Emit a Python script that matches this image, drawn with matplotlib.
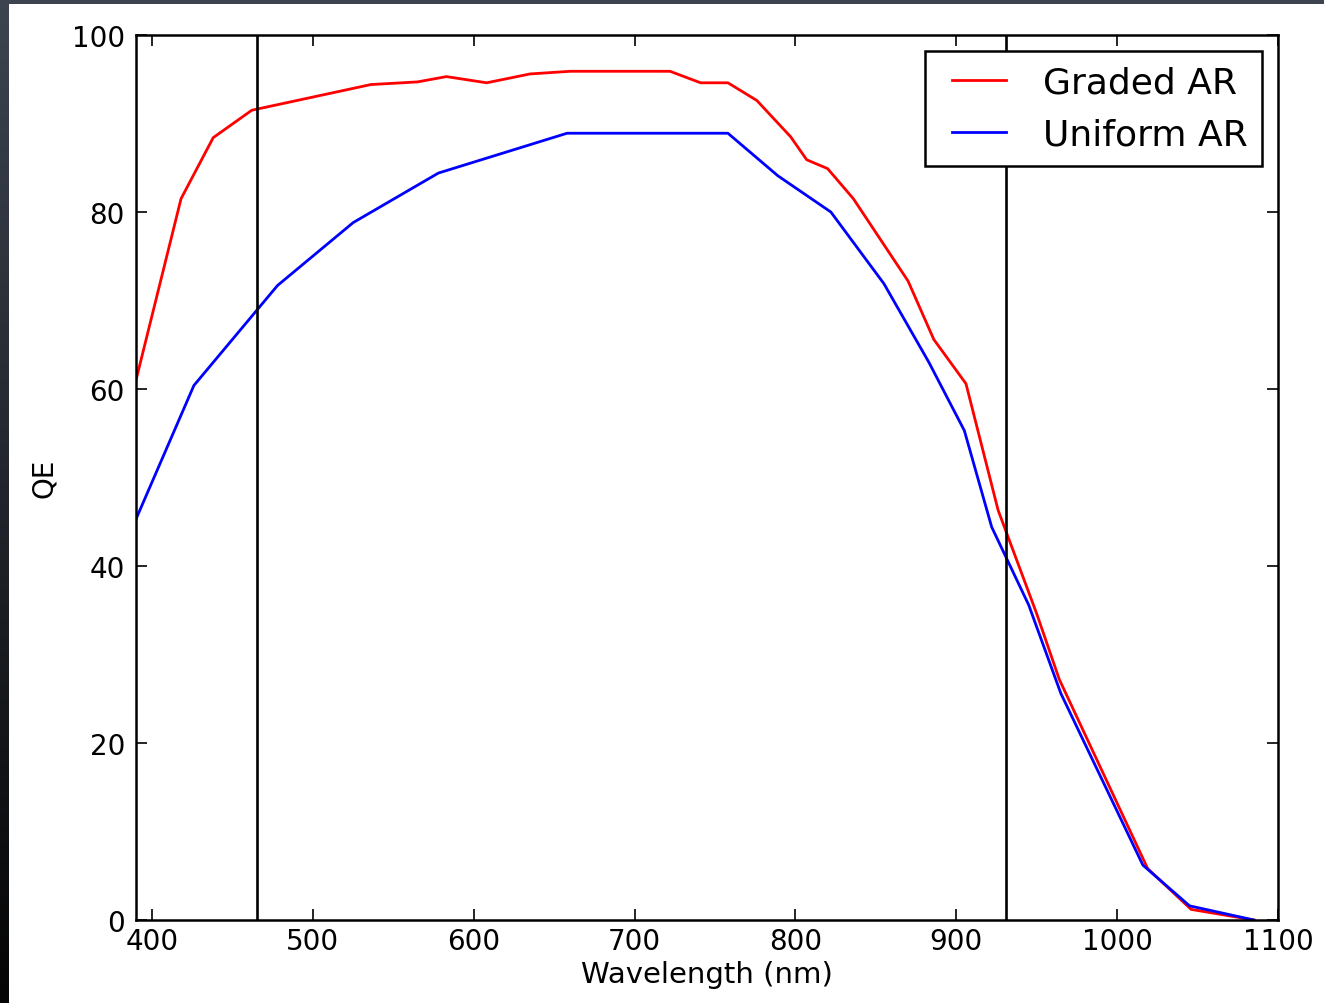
import numpy as np
import matplotlib
matplotlib.use("Agg")
import matplotlib.pyplot as plt
from matplotlib.patches import Rectangle
from matplotlib.colors import LinearSegmentedColormap
from matplotlib.legend_handler import HandlerLine2D

# ---- data ----
graded_x = [390, 418, 438, 462, 536, 565, 583, 608, 635, 660, 722, 741, 758,
            776, 797, 807, 820, 836, 870, 886, 906, 926, 950, 964, 1019, 1046, 1085]
graded_y = [61.0, 81.5, 88.4, 91.5, 94.4, 94.7, 95.3, 94.6, 95.6, 95.9, 95.9, 94.6, 94.6,
            92.6, 88.5, 85.9, 84.9, 81.5, 72.2, 65.6, 60.6, 46.3, 34.6, 27.2, 5.8, 1.2, 0.0]

uniform_x = [390, 426, 478, 525, 578, 658, 758, 789, 822, 855, 883, 905, 922,
             945, 965, 1016, 1045, 1085]
uniform_y = [45.3, 60.4, 71.7, 78.8, 84.4, 88.9, 88.9, 84.1, 80.0, 71.9, 63.0, 55.3, 44.4,
             35.6, 25.6, 6.2, 1.6, 0.0]

vlines_x = [465, 931]
xticks = [400, 500, 600, 700, 800, 900, 1000, 1100]
yticks = [0, 20, 40, 60, 80, 100]
labels = ["Graded AR", "Uniform AR"]


class OffsetLineHandler(HandlerLine2D):
    """Legend line that leaves a little empty space on its left."""
    def get_xdata(self, legend, xdescent, ydescent, width, height, fontsize):
        x = [-xdescent + 0.35 * fontsize, -xdescent + width]
        return x, x


W, H = 1324, 1004
fig = plt.figure(figsize=(W / 100, H / 100), dpi=100, facecolor="#3d4450")

# white page area with dark screenshot border
fig.patches.append(Rectangle((9 / W, 0), 1 - 9 / W, 1 - 5 / H, transform=fig.transFigure,
                             facecolor="white", edgecolor="none", zorder=-5))
ax_strip = fig.add_axes([0, 0, 9 / W, 1 - 5 / H], zorder=-4)
grad = np.linspace(0, 1, 256).reshape(-1, 1)
cm = LinearSegmentedColormap.from_list("g", ["#3d4450", "#050505"])
ax_strip.imshow(grad, aspect="auto", cmap=cm, extent=[0, 1, 0, 1], origin="upper")
ax_strip.axis("off")

ax = fig.add_axes([136 / W, (H - 921) / H, (1278 - 136) / W, (921 - 36) / H])
l1, = ax.plot(graded_x, graded_y, color="r", lw=2.0, label=labels[0])
l2, = ax.plot(uniform_x, uniform_y, color="b", lw=2.0, label=labels[1])
for vx in vlines_x:
    ax.axvline(vx, color="k", lw=1.9)

ax.set_xlim(390, 1100)
ax.set_ylim(0, 100)
ax.set_xticks(xticks)
ax.set_yticks(yticks)
ax.tick_params(direction="in", top=True, right=True, length=8, width=1.2, labelsize=20)
ax.tick_params(axis="x", pad=5)
ax.tick_params(axis="y", pad=8)
for s in ax.spines.values():
    s.set_linewidth(1.8)

ax.set_xlabel("Wavelength (nm)", fontsize=21, labelpad=4)
ax.set_ylabel("QE", fontsize=20, labelpad=10)

leg = ax.legend(loc="upper right", fontsize=26, fancybox=False, framealpha=1,
                edgecolor="k", borderaxespad=0.45, handlelength=1.85,
                handletextpad=1.0, borderpad=0.4, labelspacing=0.5,
                handler_map={l1: OffsetLineHandler(), l2: OffsetLineHandler()})
leg.get_frame().set_linewidth(1.8)

fig.savefig("out.png", dpi=100, facecolor=fig.get_facecolor())
